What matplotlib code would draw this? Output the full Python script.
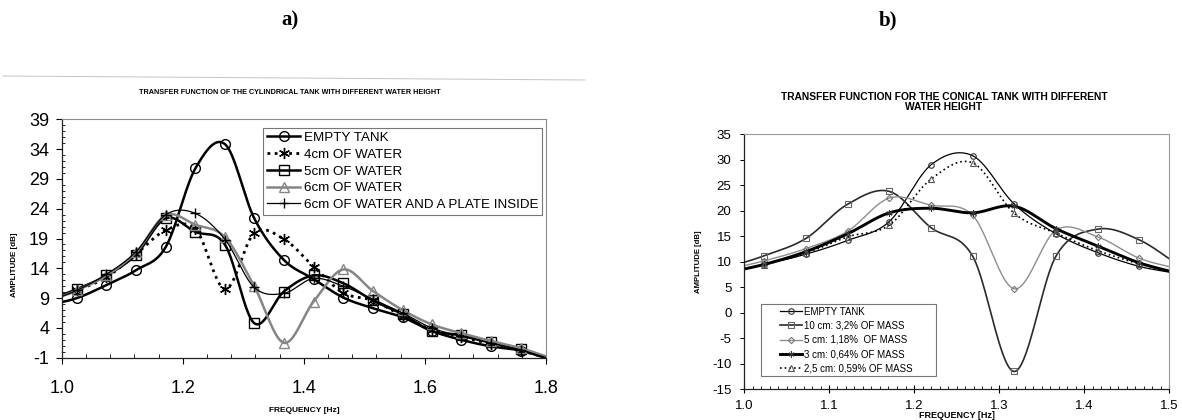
import numpy as np
import matplotlib
matplotlib.use("Agg")
import matplotlib.pyplot as plt
from matplotlib.lines import Line2D
from matplotlib.patches import Rectangle
from matplotlib.ticker import MultipleLocator

plt.rcParams['font.family'] = ['Liberation Sans', 'DejaVu Sans']
plt.rcParams['axes.unicode_minus'] = False

# ---------------- data : panel a (cylindrical tank) ----------------
# first and last points lie just outside the visible axis range
freq_a = [0.976, 1.025, 1.074, 1.123, 1.172, 1.221, 1.270, 1.318, 1.367,
          1.416, 1.465, 1.514, 1.563, 1.611, 1.660, 1.709, 1.758, 1.807]
empty_a = [7.8, 9.0, 11.2, 13.7, 17.6, 30.8, 34.8, 22.4, 15.4, 12.2, 9.1,
           7.3, 5.8, 3.5, 2.0, 0.9, 0.2, -1.3]
water4_a = [8.4, 10.3, 12.5, 16.4, 20.4, 20.6, 10.5, 19.9, 18.9, 14.3, 9.9,
            8.6, 6.0, 3.7, 2.5, 1.3, 0.2, -1.2]
water5_a = [8.6, 10.5, 12.8, 16.3, 22.4, 20.1, 17.9, 4.8, 10.1, 12.8, 11.5,
            8.6, 6.3, 3.5, 2.8, 1.6, 0.5, -1.2]
water6_a = [8.4, 10.3, 12.8, 16.7, 22.9, 21.3, 19.2, 11.0, 1.5, 8.4, 13.8,
            10.2, 7.0, 4.6, 3.1, 1.8, 0.6, -1.0]
plate_a = [8.4, 10.3, 13.0, 16.8, 23.0, 23.2, 18.8, 10.8, 9.8, 12.3, 11.0,
           8.8, 6.5, 4.0, 2.6, 1.4, 0.3, -1.2]
labels_a = ["EMPTY TANK", "4cm OF WATER", "5cm OF WATER", "6cm OF WATER",
            "6cm OF WATER AND A PLATE INSIDE"]
yticks_a = [-1, 4, 9, 14, 19, 24, 29, 34, 39]
xticks_a = [1.0, 1.2, 1.4, 1.6, 1.8]

# ---------------- data : panel b (conical tank) ----------------
freq_b = [0.975, 1.024, 1.073, 1.122, 1.171, 1.220, 1.269, 1.318, 1.367,
          1.416, 1.465, 1.514]
empty_b = [7.9, 9.5, 11.5, 14.2, 17.9, 29.0, 30.8, 21.3, 15.5, 11.8, 9.1, 7.6]
cm10_b = [8.6, 11.2, 14.6, 21.3, 23.8, 16.7, 11.1, -11.5, 11.1, 16.4, 14.3, 9.0]
cm5_b = [8.3, 10.2, 12.6, 16.0, 22.5, 21.1, 19.1, 4.7, 16.2, 14.9, 10.7, 8.5]
cm3_b = [7.7, 9.5, 12.0, 15.5, 19.6, 20.5, 19.6, 20.9, 16.5, 13.1, 9.8, 7.6]
cm25_b = [7.6, 9.4, 11.7, 14.9, 17.2, 26.2, 29.4, 19.5, 15.6, 12.2, 9.6, 7.6]
labels_b = ["EMPTY TANK", "10 cm: 3,2% OF MASS", "5 cm: 1,18%  OF MASS",
            "3 cm: 0,64% OF MASS", "2,5 cm: 0,59% OF MASS"]
yticks_b = [-15, -10, -5, 0, 5, 10, 15, 20, 25, 30, 35]
xticks_b = [1.0, 1.1, 1.2, 1.3, 1.4, 1.5]


def smooth(x, y, n=40):
    """Catmull-Rom curve through the points (like a spreadsheet 'smoothed line')."""
    P = np.column_stack([np.asarray(x, float), np.asarray(y, float)])
    P = np.vstack([2 * P[0] - P[1], P, 2 * P[-1] - P[-2]])
    t = np.linspace(0, 1, n, endpoint=False)[:, None]
    segs = []
    for i in range(1, len(P) - 2):
        p0, p1, p2, p3 = P[i - 1], P[i], P[i + 1], P[i + 2]
        segs.append(0.5 * (2 * p1 + (-p0 + p2) * t
                           + (2 * p0 - 5 * p1 + 4 * p2 - p3) * t ** 2
                           + (-p0 + 3 * p1 - 3 * p2 + p3) * t ** 3))
    segs.append(P[-2][None, :])
    S = np.vstack(segs)
    return S[:, 0], S[:, 1]


fig = plt.figure(figsize=(11.82, 4.2), dpi=100)
W, H = 1182.0, 420.0


def ax_rect(x0, x1, ytop, ybot):
    return [x0 / W, 1 - ybot / H, (x1 - x0) / W, (ybot - ytop) / H]


# ================= panel a =================
axa = fig.add_axes(ax_rect(61.7, 546.0, 119.3, 357.7))
styles_a = [
    dict(color='black', lw=1.8, ls='-', marker='o', ms=7),
    dict(color='black', lw=2.0, ls=(0, (1, 1.6)), marker=(6, 2, 0), ms=8),
    dict(color='black', lw=1.8, ls='-', marker='s', ms=7),
    dict(color='#858585', lw=1.8, ls='-', marker='^', ms=7.5),
    dict(color='black', lw=0.9, ls='-', marker='+', ms=7),
]
series_a = [empty_a, water4_a, water5_a, water6_a, plate_a]
handles_a = []
for vals, st, lab in zip(series_a, styles_a, labels_a):
    sx, sy = smooth(freq_a, vals)
    axa.plot(sx, sy, color=st['color'], lw=st['lw'], ls=st['ls'],
             solid_capstyle='butt')
    axa.plot(freq_a[1:-1], vals[1:-1], ls='none', marker=st['marker'],
             ms=st['ms'], mfc='none', mec=st['color'], mew=1.0)
    handles_a.append(Line2D([], [], color=st['color'], lw=st['lw'], ls=st['ls'],
                            marker=st['marker'], ms=st['ms'], mfc='none',
                            mec=st['color'], mew=1.0))
axa.set_xlim(1.0, 1.8)
axa.set_ylim(-1, 39)
axa.set_xticks(xticks_a)
axa.set_xticklabels([f"{v:.1f}" for v in xticks_a])
axa.set_yticks(yticks_a)
axa.xaxis.set_minor_locator(MultipleLocator(0.04))
axa.yaxis.set_minor_locator(MultipleLocator(1))
axa.tick_params(axis='x', which='major', direction='out', length=4, width=0.8,
                labelsize=13, pad=12)
axa.tick_params(axis='x', which='minor', direction='in', length=3, width=0.6)
axa.tick_params(axis='y', which='major', direction='out', length=4, width=0.8,
                labelsize=13, pad=5)
axa.tick_params(axis='y', which='minor', direction='in', length=2.5, width=0.6)
for s in ['top', 'right']:
    axa.spines[s].set_color('#8a8a8a')
    axa.spines[s].set_linewidth(0.8)
for s in ['left', 'bottom']:
    axa.spines[s].set_color('#222222')
    axa.spines[s].set_linewidth(0.9)
leg = axa.legend(handles_a, labels_a, loc='upper right',
                 bbox_to_anchor=(1 - 4 / 484.3, 1 - 8.5 / 238.4),
                 borderaxespad=0, fontsize=9.6, handlelength=2.5,
                 handletextpad=0.25, borderpad=0.3, labelspacing=0.33,
                 fancybox=False, framealpha=1, edgecolor='#777777')
leg.get_frame().set_linewidth(0.8)

fig.text(304 / W, 1 - 410.5 / H, "FREQUENCY [Hz]", ha='center', va='center',
         fontsize=6, fontweight='bold')
fig.text(15 / W, 1 - 265 / H, "AMPLITUDE [dB]", ha='center', va='center',
         rotation=90, fontsize=5.8, fontweight='bold')
fig.text(290 / W, 1 - 93 / H,
         "TRANSFER FUNCTION OF THE CYLINDRICAL TANK WITH DIFFERENT WATER HEIGHT",
         ha='center', va='center', fontsize=5.2, fontweight='bold')

# ================= panel b =================
axb = fig.add_axes(ax_rect(744.0, 1169.0, 134.3, 389.3))
styles_b = [
    dict(color='black', lw=0.9, ls='-', marker='o', ms=4, mc='#333333'),
    dict(color='#2a2a2a', lw=1.2, ls='-', marker='s', ms=4, mc='#666666'),
    dict(color='#8e8e8e', lw=1.0, ls='-', marker='D', ms=3.2, mc='#777777'),
    dict(color='black', lw=2.1, ls='-', marker=(6, 2, 0), ms=4.5, mc='#333333'),
    dict(color='black', lw=1.2, ls=(0, (1, 1.8)), marker='^', ms=4.5, mc='#555555'),
]
series_b = [empty_b, cm10_b, cm5_b, cm3_b, cm25_b]
handles_b = []
for vals, st, lab in zip(series_b, styles_b, labels_b):
    sx, sy = smooth(freq_b, vals)
    axb.plot(sx, sy, color=st['color'], lw=st['lw'], ls=st['ls'],
             solid_capstyle='butt')
    axb.plot(freq_b[1:-1], vals[1:-1], ls='none', marker=st['marker'],
             ms=st['ms'], mfc='none', mec=st['mc'], mew=0.8)
    handles_b.append(Line2D([], [], color=st['color'], lw=st['lw'], ls=st['ls'],
                            marker=st['marker'], ms=st['ms'], mfc='none',
                            mec=st['mc'], mew=0.8))
axb.set_xlim(1.0, 1.5)
axb.set_ylim(-15, 35)
axb.set_xticks(xticks_b)
axb.set_xticklabels([f"{v:.1f}" for v in xticks_b])
axb.set_yticks(yticks_b)
axb.xaxis.set_minor_locator(MultipleLocator(0.01))
axb.tick_params(axis='x', which='major', direction='inout', length=6, width=0.8,
                labelsize=9.5, pad=5)
axb.tick_params(axis='x', which='minor', direction='in', length=2.5, width=0.6)
axb.tick_params(axis='y', which='major', direction='out', length=3, width=0.7,
                labelsize=9.5, pad=6)
for s in ['top', 'right']:
    axb.spines[s].set_color('#9a9a9a')
    axb.spines[s].set_linewidth(0.8)
for s in ['left', 'bottom']:
    axb.spines[s].set_color('#222222')
    axb.spines[s].set_linewidth(0.9)

axb.add_patch(Rectangle((16.6 / 425, 13.3 / 255), 175.8 / 425, 72 / 255,
                        transform=axb.transAxes, fill=True, facecolor='white',
                        edgecolor='#777777', lw=0.8, zorder=4))
legb = axb.legend(handles_b, labels_b, loc='upper left',
                  bbox_to_anchor=(36 / 425, 1 - 172.5 / 255), borderaxespad=0,
                  fontsize=7, handlelength=2.3, handletextpad=0.15,
                  borderpad=0, labelspacing=0.42, frameon=False)
legb.set_zorder(5)

fig.text(957 / W, 1 - 416 / H, "FREQUENCY [Hz]", ha='center', va='center',
         fontsize=6.5, fontweight='bold')
fig.text(698 / W, 1 - 262 / H, "AMPLITUDE [dB]", ha='center', va='center',
         rotation=90, fontsize=5.6, fontweight='bold')
fig.text(944 / W, 1 - 97.5 / H,
         "TRANSFER FUNCTION FOR THE CONICAL TANK WITH DIFFERENT",
         ha='center', va='center', fontsize=7.4, fontweight='bold')
fig.text(944 / W, 1 - 107.5 / H, "WATER HEIGHT",
         ha='center', va='center', fontsize=7.4, fontweight='bold')

# panel letters and faint scan edge
fig.text(290 / W, 1 - 20 / H, "a)", ha='center', va='center', fontsize=15,
         fontweight='bold', family='Liberation Serif')
fig.text(888 / W, 1 - 20 / H, "b)", ha='center', va='center', fontsize=15,
         fontweight='bold', family='Liberation Serif')
fig.add_artist(Line2D([3 / W, 585 / W], [1 - 76 / H, 1 - 80 / H],
                      color='#c4c4c4', lw=0.7, transform=fig.transFigure))

fig.savefig("out.png", dpi=100)
